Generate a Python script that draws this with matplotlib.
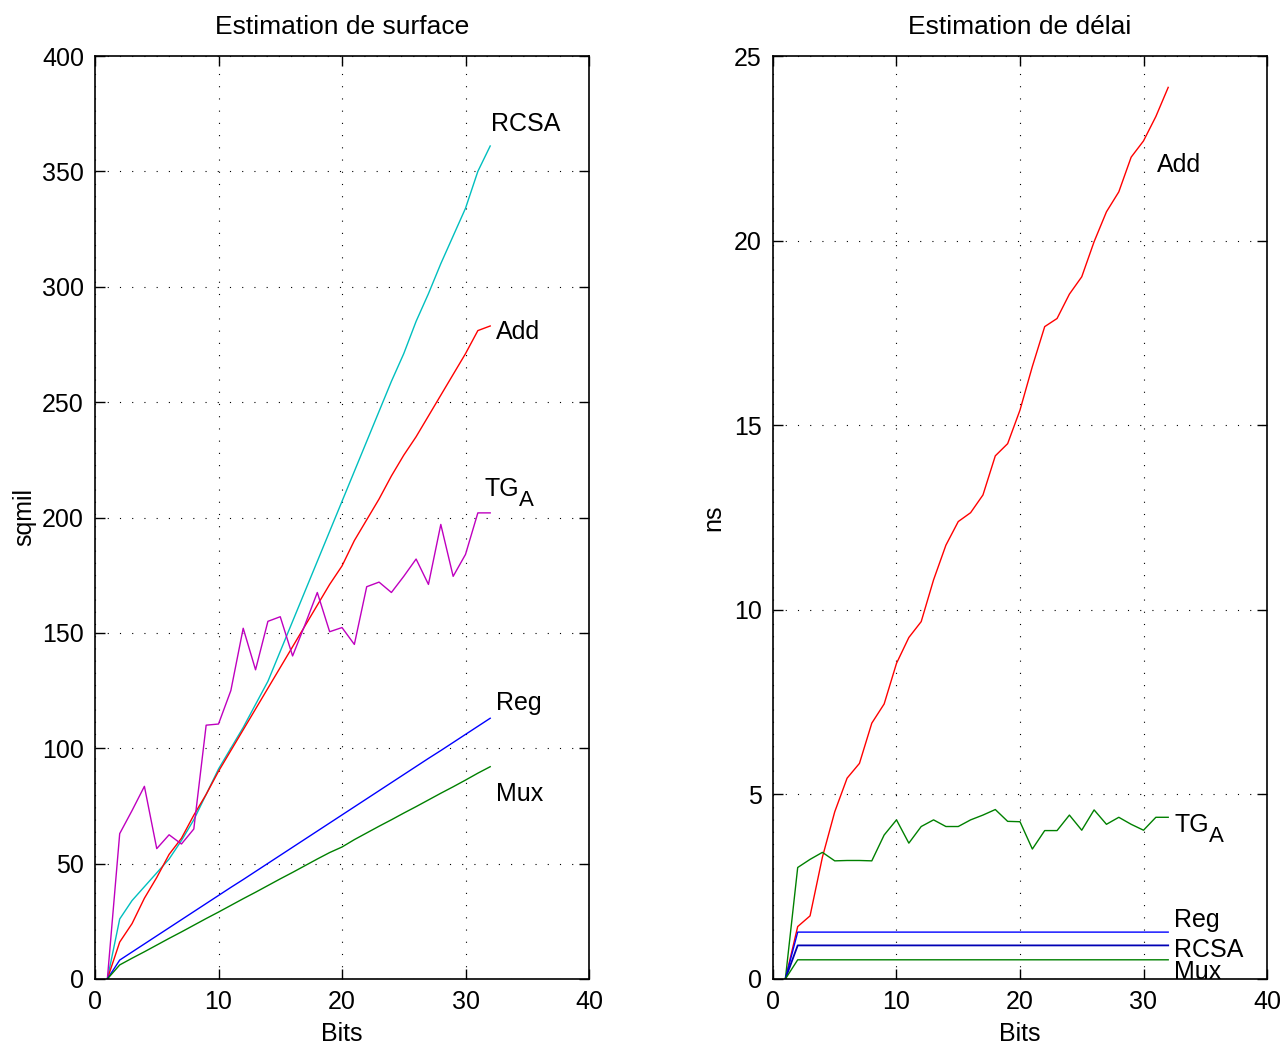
import numpy as np
import matplotlib
matplotlib.use("Agg")
import matplotlib.pyplot as plt

plt.rcParams['font.family'] = ['Liberation Sans', 'DejaVu Sans']
plt.rcParams['font.size'] = 18

bits = np.arange(1, 33)

# surface estimation (sqmil)
surf_rcsa = [0, 26, 34, 40, 46, 52, 60, 69, 80, 91, 100, 109, 119, 129, 142, 155,
             168, 181, 194, 207, 220, 233, 246, 259, 271, 285, 297, 310, 322, 334, 350, 361]
surf_add = [0, 16, 24, 35, 44, 54, 61, 71, 80, 90, 99, 108, 117, 126, 135, 144,
            153, 162, 171, 179, 190, 199, 208, 218, 227, 235, 244, 253, 262, 271, 281, 283]
surf_tga = [0, 63, 73, 83.5, 56.5, 62.5, 58.5, 65, 110, 110.5, 125, 152, 134, 155, 157, 140,
            153.5, 167.5, 150.5, 152.3, 145, 170, 172, 167.5, 174.5, 182, 171, 197, 174.5, 184, 202, 202]
surf_reg = [0, 8.2, 11.7, 15.2, 18.7, 22.2, 25.7, 29.2, 32.7, 36.2, 39.7, 43.1, 46.6, 50.1, 53.6, 57.1,
            60.6, 64.1, 67.6, 71.1, 74.6, 78.1, 81.6, 85.1, 88.6, 92.1, 95.6, 99.0, 102.5, 106.0, 109.5, 113.0]
surf_mux = [0, 6.1, 9.0, 11.8, 14.7, 17.6, 20.4, 23.3, 26.2, 29.0, 31.9, 34.8, 37.6, 40.5, 43.4, 46.2,
            49.1, 52.0, 54.8, 57.2, 60.4, 63.3, 66.2, 69.0, 71.9, 74.7, 77.6, 80.5, 83.3, 86.2, 89.2, 92.0]

# delay estimation (ns)
del_add = [0, 1.42, 1.71, 3.3, 4.53, 5.44, 5.84, 6.93, 7.45, 8.55, 9.25, 9.68, 10.81, 11.75, 12.39, 12.63,
           13.11, 14.17, 14.5, 15.41, 16.59, 17.67, 17.89, 18.55, 19.02, 19.97, 20.78, 21.32, 22.26, 22.70, 23.36, 24.15]
del_tga = [0, 3.02, 3.24, 3.43, 3.20, 3.21, 3.21, 3.20, 3.90, 4.31, 3.68, 4.13, 4.31, 4.13, 4.13, 4.31,
           4.44, 4.59, 4.27, 4.26, 3.52, 4.02, 4.02, 4.44, 4.03, 4.58, 4.19, 4.38, 4.19, 4.03, 4.38, 4.38]
del_reg = [0] + [1.27] * 31
del_rcsa = [0] + [0.91] * 31
del_mux = [0] + [0.52] * 31

fig = plt.figure(figsize=(12.86, 10.46), dpi=100)
ax1 = fig.add_axes([95/1286, 67/1046, 494/1286, 923/1046])
ax2 = fig.add_axes([773/1286, 67/1046, 494/1286, 923/1046])

lw = 1.0
ax1.plot(bits, surf_rcsa, color=(0, 0.75, 0.75), lw=lw)
ax1.plot(bits, surf_add, color='red', lw=lw)
ax1.plot(bits, surf_tga, color=(0.75, 0, 0.75), lw=lw)
ax1.plot(bits, surf_reg, color='blue', lw=lw)
ax1.plot(bits, surf_mux, color=(0, 0.5, 0), lw=lw)

ax2.plot(bits, del_add, color='red', lw=lw)
ax2.plot(bits, del_tga, color=(0, 0.5, 0), lw=lw)
ax2.plot(bits, del_reg, color='blue', lw=lw)
ax2.plot(bits, del_rcsa, color='#0000b4', lw=1.3)
ax2.plot(bits, del_mux, color=(0, 0.5, 0), lw=lw)


def tg_label(ax, x, y):
    # "TG" with a subscript "A" hanging off its lower right corner
    t = ax.text(x, y, 'TG', va='center')
    ax.annotate('A', xy=(1, 0.02), xycoords=t, va='center', ha='left', fontsize=16)


# curve labels
ax1.text(32.1, 370.5, 'RCSA', va='center')
ax1.text(32.5, 280.5, 'Add', va='center')
tg_label(ax1, 31.5, 212.5)
ax1.text(32.5, 119.5, 'Reg', va='center')
ax1.text(32.5, 80, 'Mux', va='center')

ax2.text(31.1, 22.05, 'Add', va='center')
tg_label(ax2, 32.5, 4.17)
ax2.text(32.5, 1.6, 'Reg', va='center')
ax2.text(32.5, 0.79, 'RCSA', va='center')
ax2.text(32.5, 0.19, 'Mux', va='center')

for ax, ymax, ystep in [(ax1, 400, 50), (ax2, 25, 5)]:
    ax.set_xlim(0, 40)
    ax.set_ylim(0, ymax)
    ax.set_xticks(np.arange(0, 41, 10))
    ax.set_yticks(np.arange(0, ymax + 1, ystep))
    ax.grid(True, color='black', linestyle=(0, (1, 10)), lw=0.8)
    ax.tick_params(direction='in', top=True, right=True, length=7, width=1, pad=8)
    for s in ax.spines.values():
        s.set_linewidth(1.2)
    ax.set_xlabel('Bits', labelpad=6)

ax1.set_ylabel('sqmil', labelpad=4)
ax2.set_ylabel('ns', labelpad=6)
ax1.set_title('Estimation de surface', fontsize=19, pad=16)
ax2.set_title('Estimation de délai', fontsize=19, pad=16)

fig.savefig('out.png', dpi=100)
